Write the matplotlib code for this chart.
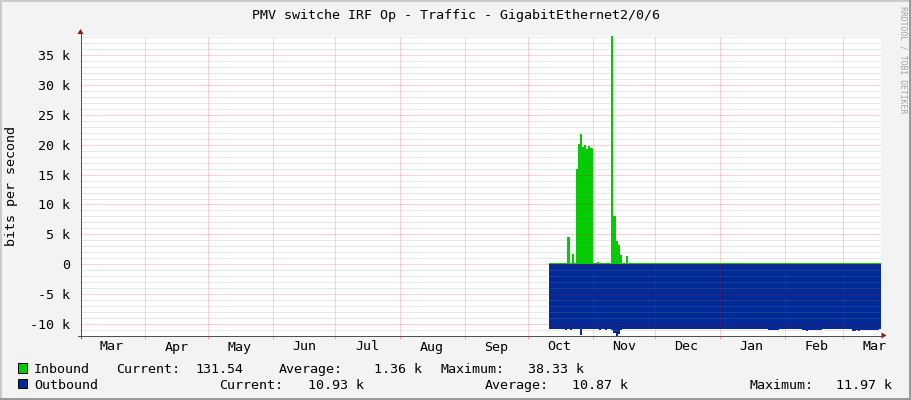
import matplotlib
matplotlib.use("Agg")
import matplotlib.pyplot as plt
import matplotlib.dates as mdates
import matplotlib.ticker as mticker
import matplotlib.transforms as mtransforms
from matplotlib.patches import Rectangle, Polygon
from matplotlib.lines import Line2D
import numpy as np
import pandas as pd

# ---------------- data (kbit/s, daily samples from 2022-10-11) ----------------
first_day = "2022-10-11"

inbound_oct = [0.13, 0.13, 0.13, 0.13, 0.13, 0.13, 0.13, 0.13, 0.13,
               4.5, 0.13, 1.7, 0.13, 15.9, 20.1, 21.8, 19.6, 20.0, 19.3, 19.8, 19.5]
inbound_nov = [0.13, 0.13, 0.35, 0.13, 0.13, 0.13, 0.13, 0.13, 0.13,
               38.33, 8.1, 3.9, 3.2, 1.5, 0.13, 0.13, 1.3,
               0.13, 0.13, 0.13, 0.13, 0.13, 0.13, 0.13, 0.13, 0.13, 0.13, 0.13, 0.13, 0.13]
inbound_dec = [0.13, 0.13, 0.14, 0.13, 0.13, 0.13, 0.14, 0.13, 0.13, 0.13, 0.13,
               0.14, 0.13, 0.13, 0.13, 0.13, 0.14, 0.13, 0.13, 0.13, 0.13,
               0.13, 0.13, 0.14, 0.13, 0.13, 0.13, 0.13, 0.13, 0.14, 0.13]
inbound_jan = [0.13, 0.13, 0.13, 0.14, 0.13, 0.13, 0.13, 0.13, 0.14, 0.13, 0.13,
               0.13, 0.13, 0.14, 0.13, 0.13, 0.13, 0.13, 0.13, 0.14, 0.13,
               0.13, 0.13, 0.13, 0.14, 0.13, 0.13, 0.13, 0.13, 0.13, 0.13]
inbound_feb = [0.13, 0.14, 0.13, 0.13, 0.13, 0.13, 0.13, 0.14, 0.13, 0.13,
               0.13, 0.13, 0.14, 0.13, 0.13, 0.13, 0.13, 0.13, 0.14, 0.13,
               0.13, 0.13, 0.13, 0.13, 0.14, 0.13, 0.13, 0.13]
inbound_mar = [0.13, 0.13, 0.14, 0.13, 0.13, 0.13, 0.13, 0.13, 0.14,
               0.13, 0.13, 0.13, 0.13, 0.14, 0.13, 0.13, 0.13, 0.1315]

outbound_oct = [10.8, 10.8, 10.8, 10.8, 10.8, 10.8, 10.8, 10.9, 11.0, 10.9, 11.0,
                10.9, 10.9, 10.8, 10.8, 11.9, 10.9, 10.8, 10.8, 10.8, 10.8]
outbound_nov = [10.8, 10.8, 10.9, 11.0, 10.9, 10.9, 11.0, 10.9, 10.9, 11.0,
                11.6, 11.97, 11.7, 11.0,
                10.8, 10.8, 10.8, 10.8, 10.8, 10.8, 10.8, 10.8,
                10.8, 10.8, 10.8, 10.8, 10.8, 10.8, 10.8, 10.8]
outbound_dec = [10.8, 10.8, 10.85, 10.8, 10.8, 10.8, 10.8, 10.85, 10.8, 10.8, 10.8,
                10.8, 10.8, 10.85, 10.8, 10.8, 10.8, 10.8, 10.8, 10.85, 10.8,
                10.8, 10.8, 10.8, 10.8, 10.85, 10.8, 10.8, 10.8, 10.8, 10.8]
outbound_jan = [10.8, 10.8, 10.8, 10.8, 10.85, 10.8, 10.8, 10.8, 10.8, 10.8, 10.8,
                10.85, 10.8, 10.8, 10.8, 10.8, 10.8, 10.8, 10.8, 10.85, 10.8,
                10.8, 10.8, 11.0, 11.0, 11.0, 11.0, 11.0, 10.8, 10.8, 10.8]
outbound_feb = [10.8, 10.8, 10.8, 10.8, 10.8, 10.85, 10.8, 10.8,
                11.0, 11.1, 11.2, 11.1, 11.0, 11.1, 11.1, 11.0, 11.1, 11.0,
                10.8, 10.8, 10.8, 10.8, 10.85, 10.8, 10.8, 10.8, 10.8, 10.8]
outbound_mar = [10.8, 10.8, 10.8, 10.8, 11.2, 11.2, 11.1, 11.2,
                11.0, 11.0, 11.0, 11.0, 11.0, 11.0, 11.0, 11.0, 11.0, 10.93]

inbound = inbound_oct + inbound_nov + inbound_dec + inbound_jan + inbound_feb + inbound_mar
outbound = outbound_oct + outbound_nov + outbound_dec + outbound_jan + outbound_feb + outbound_mar

view_start = "2022-03-01 12:30"
view_end = "2023-03-19 00:00"
month_starts = pd.date_range("2022-03-01", "2023-03-01", freq="MS")
month_labels = ["Mar", "Apr", "May", "Jun", "Jul", "Aug", "Sep",
                "Oct", "Nov", "Dec", "Jan", "Feb", "Mar"]
y_limits = (-11.97, 38.33)

title = "PMV switche IRF Op - Traffic - GigabitEthernet2/0/6"
ylabel = "bits per second"
watermark = "RRDTOOL / TOBI OETIKER"
legend_names = ["Inbound", "Outbound"]
legend_row1 = ["Current:", "131.54", "Average:", "1.36 k", "Maximum:", "38.33 k"]
legend_row2 = ["Current:", "10.93 k", "Average:", "10.87 k", "Maximum:", "11.97 k"]

# ---------------- styling ----------------
GREEN = "#00CC00"
BLUE = "#002A97"
BACK = "#F3F3F3"
FS = 9.6

plt.rcParams["font.family"] = ["DejaVu Sans Mono", "DejaVu Sans"]

W, H = 911, 400
fig = plt.figure(figsize=(W / 100, H / 100), dpi=100, facecolor=BACK)
pix = mtransforms.Affine2D().scale(1 / W, -1 / H).translate(0, 1) + fig.transFigure

AX_L, AX_R, AX_T, AX_B = 80.5, 881.0, 35.5, 335.5
ax = fig.add_axes([AX_L / W, 1 - AX_B / H, (AX_R - AX_L) / W, (AX_B - AX_T) / H])
ax.set_facecolor("white")

dates = pd.date_range(first_day, periods=len(inbound), freq="D")
edges = mdates.date2num(list(dates) + [dates[-1] + pd.Timedelta(days=1)])

ax.stairs(-np.array(outbound), edges, baseline=0, fill=True, color=BLUE, lw=0, zorder=1)
ax.stairs(np.array(inbound), edges, baseline=0, fill=True, color=GREEN, lw=0, zorder=1.1)

ax.set_xlim(mdates.date2num(pd.Timestamp(view_start)), mdates.date2num(pd.Timestamp(view_end)))
ax.set_ylim(*y_limits)

major_x = mdates.date2num(month_starts)
minor_x = mdates.date2num(month_starts + pd.Timedelta(days=15))
ax.set_xticks(major_x)
ax.set_xticklabels([""] * len(major_x))
ax.set_xticks(minor_x, minor=True)
ax.set_xticklabels(month_labels, minor=True)

ax.yaxis.set_major_locator(mticker.MultipleLocator(5))
ax.yaxis.set_minor_locator(mticker.MultipleLocator(1))
ax.yaxis.set_major_formatter(mticker.FuncFormatter(
    lambda v, p: "0" if abs(v) < 1e-9 else "%d k" % int(round(v))))

ax.tick_params(axis="x", which="major", length=2.2, width=0.72, color="#f0a0a0", direction="out")
ax.tick_params(axis="x", which="minor", length=0, pad=3.6, labelsize=FS)
ax.tick_params(axis="y", which="major", length=0, pad=7.2, labelsize=FS)
ax.tick_params(axis="y", which="minor", length=0)

dots = (0, (1, 1))
ax.grid(True, which="major", axis="x", color="#ff0000", alpha=0.35, lw=0.72, ls=dots)
ax.grid(True, which="major", axis="y", color="#ff0000", alpha=0.35, lw=0.72, ls=dots)
ax.grid(True, which="minor", axis="y", color="#8c8c8c", alpha=0.4, lw=0.72, ls=dots)
ax.set_axisbelow(False)

for s in ax.spines.values():
    s.set_visible(False)

AXIS_C = "#505050"
ARROW_C = "#8b1a1a"
fig.add_artist(Line2D([80.5, 80.5], [338.0, 33.0], transform=pix, color=AXIS_C, lw=0.72))
fig.add_artist(Line2D([78.0, 883.0], [335.5, 335.5], transform=pix, color=AXIS_C, lw=0.72))
fig.add_artist(Polygon([(77.5, 34.0), (83.5, 34.0), (80.5, 29.0)], closed=True,
                       transform=pix, facecolor=ARROW_C, edgecolor="none"))
fig.add_artist(Polygon([(881.5, 332.5), (881.5, 338.5), (886.5, 335.5)], closed=True,
                       transform=pix, facecolor=ARROW_C, edgecolor="none"))

# frame shades
fig.add_artist(Rectangle((0, 0), W, 2, transform=pix, facecolor="#CBCBCB", edgecolor="none"))
fig.add_artist(Rectangle((0, 0), 2, H, transform=pix, facecolor="#CBCBCB", edgecolor="none"))
fig.add_artist(Rectangle((0, H - 2.5), W, 2.5, transform=pix, facecolor="#999999", edgecolor="none"))
fig.add_artist(Rectangle((W - 2.5, 0), 2.5, H, transform=pix, facecolor="#999999", edgecolor="none"))

# texts
fig.text(455.5, 19.5, title, transform=pix, ha="center", va="baseline", fontsize=FS)
fig.text(11.7, 186, ylabel, transform=pix, ha="center", va="center", rotation=90, fontsize=FS)
fig.text(903.3, 6, watermark, transform=pix, ha="center", va="top", rotation=270,
         fontsize=5.9, color="#a4a4a4")

# legend
fig.add_artist(Rectangle((17.5, 363.0), 9.5, 9.5, transform=pix, facecolor=GREEN,
                         edgecolor="black", lw=0.7))
fig.add_artist(Rectangle((17.5, 378.5), 9.5, 9.5, transform=pix, facecolor=BLUE,
                         edgecolor="black", lw=0.7))
row1_x = [116.0, 195.5, 279.0, 374.5, 440.5, 528.5]
row2_x = [219.5, 308.0, 485.0, 572.0, 749.0, 836.0]
fig.text(34.0, 373.3, legend_names[0], transform=pix, ha="left", va="baseline", fontsize=FS)
fig.text(34.0, 389.0, legend_names[1], transform=pix, ha="left", va="baseline", fontsize=FS)
for t, x in zip(legend_row1, row1_x):
    fig.text(x, 373.3, t, transform=pix, ha="left", va="baseline", fontsize=FS)
for t, x in zip(legend_row2, row2_x):
    fig.text(x, 389.0, t, transform=pix, ha="left", va="baseline", fontsize=FS)

fig.savefig("out.png", dpi=100, facecolor=BACK)
